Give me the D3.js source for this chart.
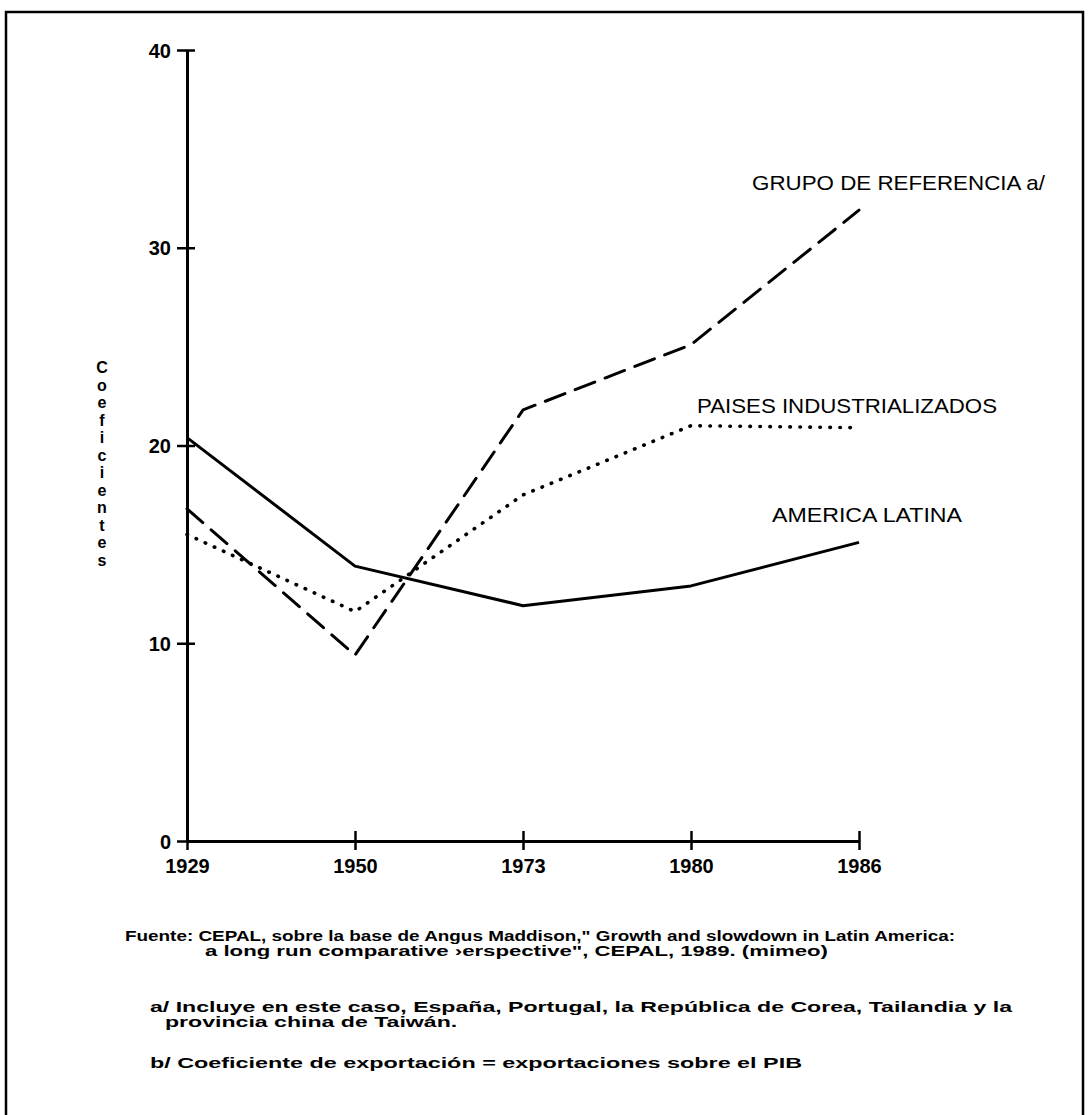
<!DOCTYPE html>
<html><head><meta charset="utf-8">
<script src="https://cdn.jsdelivr.net/npm/d3@7"></script>
<style>html,body{margin:0;padding:0;background:#fff;}svg{display:block;}</style>
</head><body>
<script>
const years = ["1929","1950","1973","1980","1986"];
const americaLatina = [20.4, 13.9, 11.9, 12.9, 15.1];
const grupoReferencia = [16.8, 9.4, 21.8, 25.1, 31.9];
const paisesIndustrializados = [15.5, 11.6, 17.5, 21.0, 20.9];
const yTicks = [0, 10, 20, 30, 40];
const seriesNames = ["AMERICA LATINA", "GRUPO DE REFERENCIA a/", "PAISES INDUSTRIALIZADOS"];
const yLabel = "Coeficientes";
const footnotes = [
  "Fuente: CEPAL, sobre la base de Angus Maddison,\" Growth and slowdown in Latin America:",
  "a long run comparative \u203aerspective\", CEPAL, 1989. (mimeo)",
  "a/ Incluye en este caso, España, Portugal, la República de Corea, Tailandia y la",
  "provincia china de Taiwán.",
  "b/ Coeficiente de exportación = exportaciones sobre el PIB"
];

const W = 1089, H = 1115;
const svg = d3.select("body").append("svg").attr("width", W).attr("height", H);
svg.append("rect").attr("x", 6).attr("y", 12).attr("width", 1077).attr("height", 1120)
  .attr("fill", "none").attr("stroke", "#000").attr("stroke-width", 2.5);

const x = d3.scalePoint().domain(years).range([187, 859]);
const y = d3.scaleLinear().domain([0, 40]).range([841, 50]);
const font = "'Liberation Sans', Arial, sans-serif";

// Y axis
const gy = svg.append("g").attr("transform", "translate(187,0)")
  .call(d3.axisLeft(y).tickValues(yTicks).tickSize(10).tickPadding(6).tickSizeOuter(0));
gy.select(".domain").attr("stroke-width", 3);
gy.selectAll(".tick line").attr("x1", 8).attr("x2", -10).attr("stroke-width", 2.5);
gy.selectAll(".tick text").attr("font-family", font).attr("font-weight", "bold")
  .attr("font-size", 20).attr("fill", "#000").attr("dy", "0.36em");

// X axis
const gx = svg.append("g").attr("transform", "translate(0,841)")
  .call(d3.axisBottom(x).tickSize(9).tickPadding(9).tickSizeOuter(0));
gx.select(".domain").attr("stroke-width", 3);
gx.selectAll(".tick line").attr("y1", -10).attr("y2", 9).attr("stroke-width", 2.5);
gx.selectAll(".tick text").attr("font-family", font).attr("font-weight", "bold")
  .attr("font-size", 20).attr("fill", "#000");

// Lines
const line = d3.line().x((d, i) => x(years[i])).y(d => y(d));
svg.append("path").datum(americaLatina).attr("d", line).attr("fill", "none")
  .attr("stroke", "#000").attr("stroke-width", 3).attr("stroke-linejoin", "round");
svg.append("path").datum(grupoReferencia).attr("d", line).attr("fill", "none")
  .attr("stroke", "#000").attr("stroke-width", 3).attr("stroke-dasharray", "21,11")
  .attr("stroke-linecap", "round");
svg.append("path").datum(paisesIndustrializados).attr("d", line).attr("fill", "none")
  .attr("stroke", "#000").attr("stroke-width", 3.6).attr("stroke-dasharray", "0.5,9.5")
  .attr("stroke-linecap", "round");

// Series labels
const labelPos = [
  {x: 772, y: 522, w: 190},
  {x: 752, y: 190, w: 293},
  {x: 697, y: 413, w: 300}
];
seriesNames.forEach((n, i) => {
  svg.append("text").attr("x", labelPos[i].x).attr("y", labelPos[i].y)
    .attr("font-family", font).attr("font-size", 21).attr("fill", "#000")
    .attr("textLength", labelPos[i].w).attr("lengthAdjust", "spacingAndGlyphs")
    .text(n);
});

// Y label stacked letters
yLabel.split("").forEach((c, i) => {
  svg.append("text").attr("x", 102).attr("y", 373 + i * 17.5)
    .attr("text-anchor", "middle").attr("font-family", font).attr("font-weight", "bold")
    .attr("font-size", 16).attr("fill", "#000").text(c);
});

// Footnotes
const fnPos = [
  {x: 125, y: 941, w: 830},
  {x: 205, y: 956, w: 623},
  {x: 150, y: 1012, w: 862},
  {x: 165, y: 1027, w: null},
  {x: 150, y: 1068, w: 652}
];
const fnNodes = footnotes.map((t, i) => svg.append("text").attr("x", fnPos[i].x).attr("y", fnPos[i].y)
    .attr("font-family", font).attr("font-weight", "bold").attr("font-size", 14)
    .attr("fill", "#000").text(t));
const factor = 862 / fnNodes[2].node().getComputedTextLength();
fnNodes.forEach((n, i) => {
  const w = fnPos[i].w != null ? fnPos[i].w : n.node().getComputedTextLength() * factor;
  n.attr("textLength", w).attr("lengthAdjust", "spacingAndGlyphs");
});
</script>
</body></html>
